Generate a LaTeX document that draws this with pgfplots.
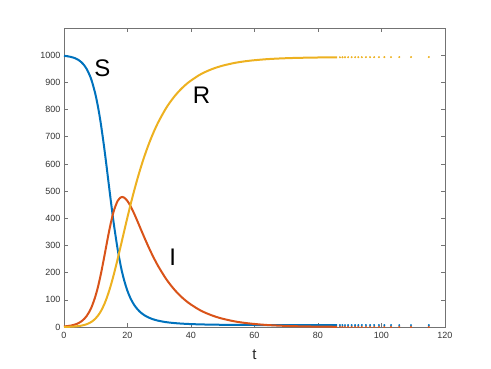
\documentclass[border=0pt]{standalone}
\usepackage{pgfplots}
\usepackage{pgfplotstable}
\pgfplotsset{compat=1.18}
\usepackage{fontspec}
\setmainfont{Liberation Sans}

\definecolor{mblue}{rgb}{0,0.447,0.741}
\definecolor{morange}{rgb}{0.85,0.325,0.098}
\definecolor{myellow}{rgb}{0.929,0.694,0.125}

% t  S  I  R
\pgfplotstableread{
t S I R
0.000 997.6 2.1 0.3
0.817 996.5 3.0 0.5
2.034 994.0 5.0 1.0
3.435 989.1 8.9 2.0
4.653 981.7 14.8 3.5
5.467 974.3 20.7 5.0
6.411 962.2 30.3 7.5
7.088 950.3 39.7 10
8.071 926.8 58.2 15
8.788 903.9 76.1 20
9.820 859.8 110.2 30
10.581 817.9 142.1 40
11.189 778.0 172.0 50
11.702 740.1 199.9 60
12.550 669.7 250.3 80
13.250 605.9 294.1 100
14.000 534.7 340.3 125
14.662 471.9 378.1 150
15.267 416.4 408.6 175
15.835 367.5 432.5 200
16.894 286.2 463.8 250
17.904 222.9 477.1 300
18.337 200.0 478.3 321.7
18.903 173.6 476.4 350
19.911 135.2 464.8 400
20.955 105.3 444.7 450
22.060 82.0 418.0 500
23.246 63.9 386.1 550
24.537 49.7 350.3 600
25.982 38.7 311.3 650
27.619 30.2 269.8 700
29.538 23.5 226.5 750
31.884 18.3 181.7 800
33.284 16.2 158.9 825
34.905 14.3 135.7 850
36.829 12.6 112.4 875
39.220 11.1 88.9 900
42.334 9.8 65.2 925
44.350 9.2 53.3 937.5
46.883 8.6 41.4 950
49.502 8.2 31.8 960
53.072 7.8 22.2 970
55.490 7.6 17.4 975
58.703 7.4 12.6 980
63.480 7.3 7.7 985
68.100 7.2 4.9 988
73.110 7.1 2.9 990
80.000 7.0 1.45 991.5
86.000 7.0 0.8 992.2
}\sirdata

\pgfplotstableread{
t S I R
86.9 7.0 0.72 992.28
87.7 7.0 0.66 992.34
88.5 7.0 0.61 992.40
89.5 7.0 0.55 992.46
90.6 7.0 0.49 992.52
91.7 7.0 0.44 992.57
92.7 7.0 0.40 992.62
93.8 7.0 0.36 992.66
95.1 7.0 0.31 992.71
96.4 7.0 0.27 992.75
97.7 7.0 0.24 992.78
99.2 7.0 0.21 992.81
100.9 7.0 0.17 992.85
103.0 7.0 0.14 992.89
105.6 6.9 0.11 992.92
109.3 6.9 0.07 992.96
114.9 6.9 0.04 992.99
}\sirtail

\begin{document}
\begin{tikzpicture}
\begin{axis}[
    name=ax, at={(0,0)}, anchor=south west,
    scale only axis, width=381pt, height=299pt,
    xmin=0, xmax=120, ymin=0, ymax=1100,
    xtick={0,20,...,120}, ytick={0,100,...,1000},
    tick align=inside, major tick length=4pt,
    axis line style={black!55, line width=0.6pt},
    tick style={black!55, line width=0.6pt},
    tick label style={font=\fontsize{9}{10}\selectfont, text=black!80},
    xticklabel style={yshift=-2pt},
    /pgf/number format/assume math mode=true,
    /pgf/number format/set thousands separator={},
    xlabel={t},
    xlabel style={font=\fontsize{15}{16}\selectfont, text=black!85,
        at={(axis description cs:0.5,0)}, anchor=center, yshift=-28pt},
    clip=true,
]
\addplot[mblue, line width=2pt, smooth] table[x=t, y=S] {\sirdata};
\addplot[morange, line width=2pt, smooth] table[x=t, y=I] {\sirdata};
\addplot[myellow, line width=2pt, smooth] table[x=t, y=R] {\sirdata};
\addplot[only marks, mark=*, mark size=0.8pt, morange] table[x=t, y=I] {\sirtail};
\addplot[only marks, mark=*, mark size=0.8pt, mblue] table[x=t, y=S] {\sirtail};
\addplot[only marks, mark=*, mark size=0.8pt, myellow] table[x=t, y=R] {\sirtail};
\node[font=\fontsize{24}{24}\selectfont] at (axis cs:12.1,951) {S};
\node[font=\fontsize{24}{24}\selectfont] at (axis cs:43.3,852) {R};
\node[font=\fontsize{24}{24}\selectfont] at (axis cs:34.2,255) {I};
\end{axis}
\pgfresetboundingbox
\path[use as bounding box] (-64pt,-41pt) rectangle (427pt,327pt);
\end{tikzpicture}
\end{document}
